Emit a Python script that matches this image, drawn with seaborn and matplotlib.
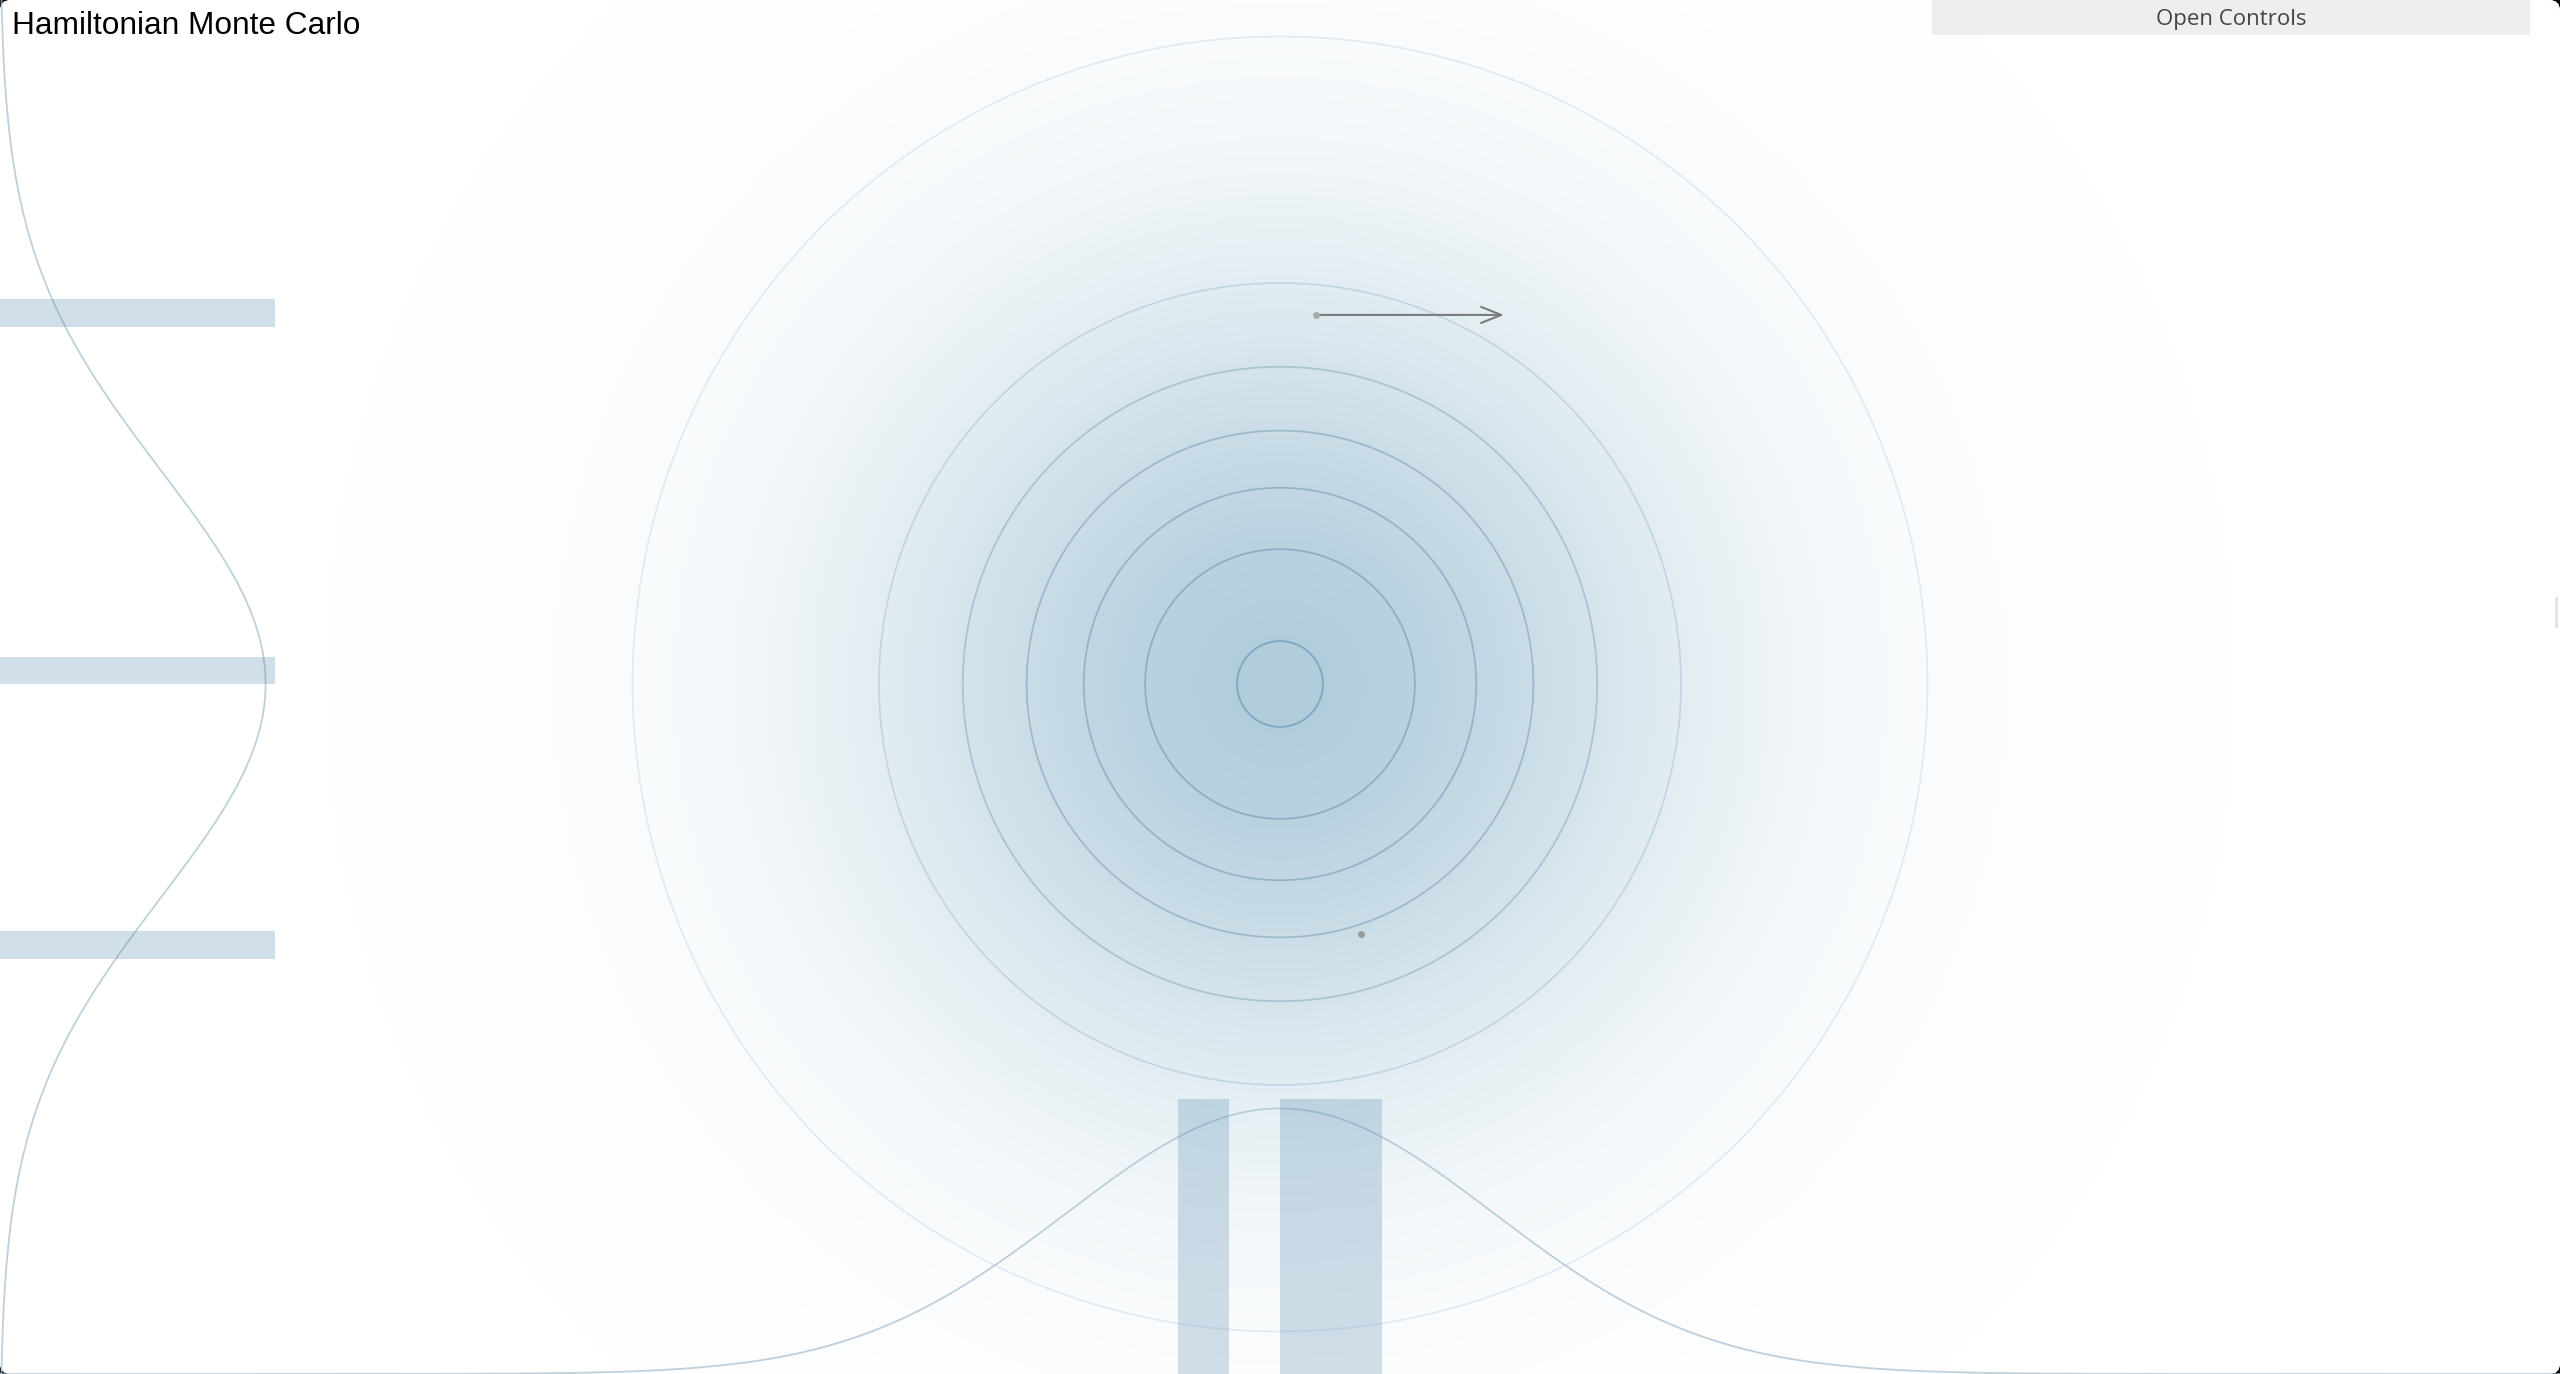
import numpy as np
import matplotlib
matplotlib.use("Agg")
import matplotlib.pyplot as plt
from matplotlib.colors import LinearSegmentedColormap
from matplotlib.patches import FancyBboxPatch, Rectangle
from matplotlib.transforms import IdentityTransform
import seaborn as sns

# samples collected so far (target space)
sample_x = [-0.35, 0.17, 0.38]
sample_y = [0.06, 1.73, -1.17]

# current particle position and its momentum (arrow)
current_pos = [0.17, 1.73]
momentum = [0.88, 0.0]

# proposal point shown as grey dot
proposal_pos = [0.38, -1.17]

# contour levels of the target density, relative to its peak
contour_levels = [0.01, 0.171, 0.331, 0.494, 0.655, 0.819, 0.98]
contour_colors = ["#e2eaf0", "#c3d5e1", "#abc3d4", "#9fb9cb", "#97b3c7", "#8faec3", "#7ea8c3"]

title = "Hamiltonian Monte Carlo"
button_label = "Open Controls"

W, H = 2560, 1374
px_per_unit = W / 12.0
xlim = (-6.0, 6.0)
ylim = (-690 / px_per_unit, 684 / px_per_unit)
n_bins = 50
hist_px = 275
curve_peak = 1.245

sns.set_style("white")
plt.rcParams["font.family"] = ["Liberation Sans", "DejaVu Sans"]

fig = plt.figure(figsize=(W / 100, H / 100), dpi=100)
fig.patch.set_facecolor("black")

# white window with rounded corners
frame = FancyBboxPatch((0, 0), W, H, boxstyle="round,pad=0,rounding_size=11",
                       transform=IdentityTransform(), fc="white", ec="none", zorder=-5)
fig.add_artist(frame)

ax = fig.add_axes([0, 0, 1, 1])
ax.set_xlim(xlim)
ax.set_ylim(ylim)
ax.axis("off")

# density shading
gx = np.linspace(xlim[0], xlim[1], 1200)
gy = np.linspace(ylim[0], ylim[1], 650)
X, Y = np.meshgrid(gx, gy)
R2 = X ** 2 + Y ** 2
shade_cmap = LinearSegmentedColormap.from_list("shade", ["#ffffff", "#b1cddc"])
im = ax.imshow(np.exp(-R2 / 3.6), extent=(xlim[0], xlim[1], ylim[0], ylim[1]),
               origin="lower", cmap=shade_cmap, vmin=0, vmax=1,
               interpolation="bilinear", aspect="auto", zorder=0)
im.set_clip_path(frame)

ax.contour(X, Y, np.exp(-R2 / 2), levels=contour_levels, colors=contour_colors,
           linewidths=1.3, zorder=1)

# marginal curves
cx = np.linspace(xlim[0], xlim[1], 800)
sns.lineplot(x=cx, y=ylim[0] + curve_peak * np.exp(-cx ** 2 / 2), ax=ax,
             color="#a9c1d1", lw=1.3, alpha=0.75, zorder=2)
cy = np.linspace(ylim[0], ylim[1], 800)
sns.lineplot(x=xlim[0] + curve_peak * np.exp(-cy ** 2 / 2), y=cy, orient="y",
             estimator=None, ax=ax, color="#a9c1d1", lw=1.3, alpha=0.75, zorder=2)

# arrow for the momentum and points
ax.annotate("", xy=(current_pos[0] + momentum[0], current_pos[1] + momentum[1]),
            xytext=(current_pos[0], current_pos[1]),
            arrowprops=dict(arrowstyle="->,head_length=1.0,head_width=0.4",
                            mutation_scale=14.5, color="#7b7b7b", lw=1.5,
                            shrinkA=0, shrinkB=0), zorder=5)
ax.plot(current_pos[0], current_pos[1], "o", ms=5, color="#a9a9a9", mec="none", zorder=6)
ax.plot(proposal_pos[0], proposal_pos[1], "o", ms=5, color="#9a9a9a", mec="none", zorder=6)

# marginal histograms
x_edges = np.linspace(xlim[0], xlim[1], n_bins + 1)
bw_y = (ylim[1] - ylim[0]) / n_bins
y_edges = np.arange(-25, 26) * bw_y

ax_b = fig.add_axes([0, 0, 1, hist_px / H])
sns.histplot(x=sample_x, bins=x_edges, ax=ax_b, color="#4b83ab", alpha=0.25,
             linewidth=0)
ax_b.set_xlim(xlim)
ax_b.set_ylim(0, 1)
ax_b.axis("off")

ax_l = fig.add_axes([0, 0, hist_px / W, 1])
sns.histplot(y=sample_y, bins=y_edges, ax=ax_l, color="#4b83ab", alpha=0.25,
             linewidth=0)
ax_l.set_ylim(ylim)
ax_l.set_xlim(0, 1)
ax_l.axis("off")

# title and controls button
fig.text(12 / W, 1 - 34 / H, title, fontsize=22.8, color="black", va="baseline", ha="left")
fig.add_artist(Rectangle((1932 / W, 1 - 35 / H), 598 / W, 35 / H,
                         transform=fig.transFigure, fc="#eeeeee", ec="none"))
fig.text(2231 / W, 1 - 25 / H, button_label, fontsize=16, color="#444444",
         va="baseline", ha="center", family=["Open Sans", "DejaVu Sans"])
fig.add_artist(Rectangle((2555 / W, 1 - 628 / H), 3 / W, 31 / H,
                         transform=fig.transFigure, fc="#e4e4e4", ec="none"))

fig.savefig("out.png", dpi=100, facecolor=fig.get_facecolor())
